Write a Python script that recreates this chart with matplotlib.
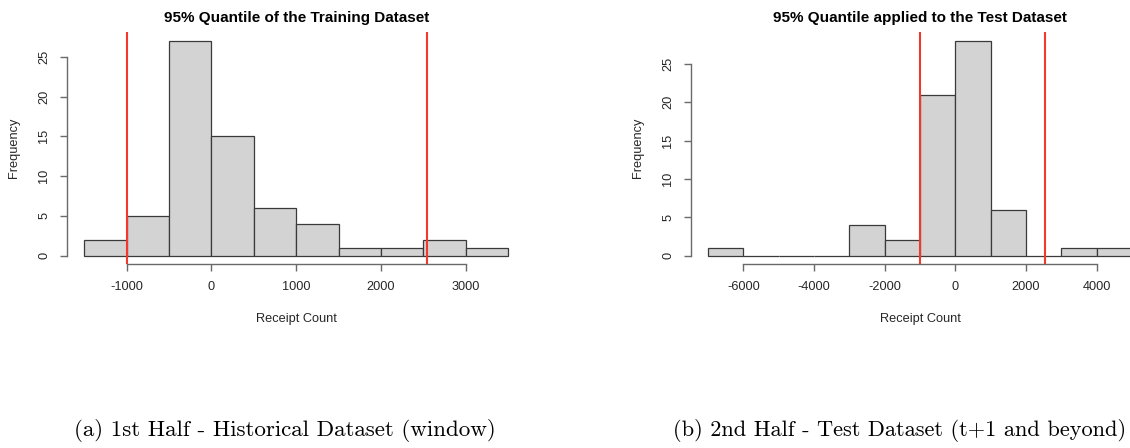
#!/usr/bin/env python3
"""Two R-style histograms with the 95% quantile band of the training data."""
import matplotlib
matplotlib.use("Agg")
import matplotlib.pyplot as plt

# ---- data ----
train_breaks = [-1500, -1000, -500, 0, 500, 1000, 1500, 2000, 2500, 3000, 3500]
train_counts = [2, 5, 27, 15, 6, 4, 1, 1, 2, 1]
test_breaks = [-7000, -6000, -5000, -4000, -3000, -2000, -1000, 0, 1000, 2000, 3000, 4000, 5000]
test_counts = [1, 0, 0, 0, 4, 2, 21, 28, 6, 0, 1, 1]
q_lo, q_hi = -1000, 2540          # 95% quantile band (training)

train_xticks = [-1000, 0, 1000, 2000, 3000]
test_xticks = [-6000, -4000, -2000, 0, 2000, 4000]
yticks = [0, 5, 10, 15, 20, 25]

titles = ["95% Quantile of the Training Dataset", "95% Quantile applied to the Test Dataset"]
captions = ["(a) 1st Half - Historical Dataset (window)",
            "(b) 2nd Half - Test Dataset (t+1 and beyond)"]

plt.rcParams["font.family"] = ["Liberation Sans", "DejaVu Sans"]
plt.rcParams["axes.unicode_minus"] = False

W, H = 1130, 448
fig = plt.figure(figsize=(W / 100, H / 100), dpi=100)

AXC = "#6a6a6a"
TXC = "#262626"


def rhist(rect, breaks, counts, xticks, title):
    ax = fig.add_axes(rect)
    widths = [b - a for a, b in zip(breaks[:-1], breaks[1:])]
    ax.bar(breaks[:-1], counts, width=widths, align="edge", color="#d3d3d3",
           edgecolor="#3a3a3a", linewidth=0.9)
    ax.axvline(q_lo, color="#f2392b", lw=1.5)
    ax.axvline(q_hi, color="#f2392b", lw=1.5)
    # R pretty-range with 4% padding
    span_x = breaks[-1] - breaks[0]
    ax.set_xlim(breaks[0] - 0.04 * span_x, breaks[-1] + 0.04 * span_x)
    top = max(counts)
    ax.set_ylim(-0.04 * top, top * 1.04)
    for s in ("top", "right"):
        ax.spines[s].set_visible(False)
    for s in ("left", "bottom"):
        ax.spines[s].set_color(AXC)
        ax.spines[s].set_linewidth(1.0)
    ax.spines["bottom"].set_bounds(xticks[0], xticks[-1])
    ax.spines["left"].set_bounds(yticks[0], yticks[-1])
    ax.set_xticks(xticks)
    ax.set_yticks(yticks)
    ax.tick_params(length=5.2, width=1.0, color=AXC, labelsize=9.2,
                   labelcolor=TXC, pad=7)
    for lab in ax.get_yticklabels():
        lab.set_rotation(90)
        lab.set_va("center")
    ax.set_xlabel("Receipt Count", fontsize=9.2, color=TXC, labelpad=14)
    ax.set_ylabel("Frequency", fontsize=9.2, color=TXC, labelpad=13)
    ax.set_title(title, fontsize=11, fontweight="bold", pad=7.5)
    return ax


rhist([67.4 / W, (H - 264.3) / H, (525.1 - 67.4) / W, 232.1 / H],
      train_breaks, train_counts, train_xticks, titles[0])
rhist([691.0 / W, (H - 264.3) / H, (1149.1 - 691.0) / W, 232.1 / H],
      test_breaks, test_counts, test_xticks, titles[1])

fig.text(285 / W, 1 - 430 / H, captions[0], ha="center", va="center",
         family="cmr10", fontsize=16.6)
fig.text(1126 / W, 1 - 430 / H, captions[1], ha="right", va="center",
         family="cmr10", fontsize=16.1)

fig.savefig("out.png", dpi=100)
